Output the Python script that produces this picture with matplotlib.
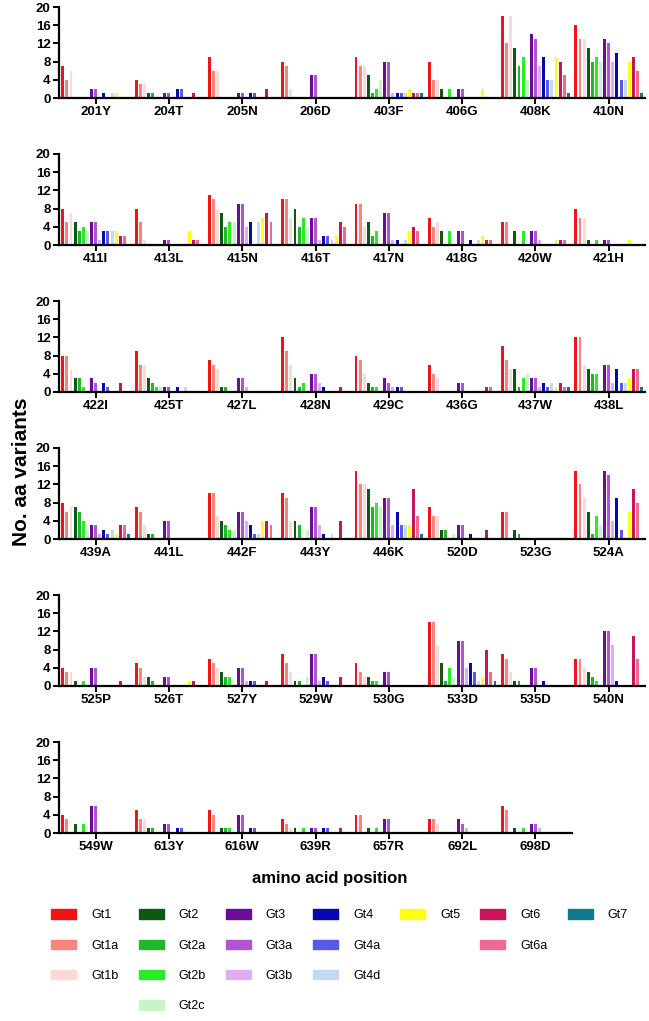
import matplotlib
matplotlib.use('Agg')
import matplotlib.pyplot as plt
from matplotlib.patches import Patch

plt.rcParams['font.family'] = ['Liberation Sans', 'DejaVu Sans']

subtypes = ['Gt1', 'Gt1a', 'Gt1b', 'Gt2', 'Gt2a', 'Gt2b', 'Gt2c', 'Gt3', 'Gt3a', 'Gt3b',
            'Gt4', 'Gt4a', 'Gt4d', 'Gt5', 'Gt6', 'Gt6a', 'Gt7']
colors = ['#f01414', '#f8847c', '#fcd8d8', '#0c5a12', '#20b82a', '#28ec28', '#c8f4c8',
          '#6a0c96', '#b054d4', '#e2acf4', '#0808b0', '#5a5ae8', '#c4d8f4', '#ffff14',
          '#c8145c', '#f06894', '#12788c']

# one row per site, columns follow `subtypes`
sites1 = ['201Y', '204T', '205N', '206D', '403F', '406G', '408K', '410N']
counts1 = [
    [7, 4, 6, 0, 0, 0, 0, 2, 2, 0, 1, 0, 1, 1, 0, 0, 0],
    [4, 3, 3, 1, 1, 0, 0, 1, 1, 0, 2, 2, 0, 0, 1, 0, 0],
    [9, 6, 6, 0, 0, 0, 0, 1, 1, 0, 1, 1, 0, 0, 2, 0, 0],
    [8, 7, 2, 0, 0, 0, 0, 5, 5, 0, 0, 0, 0, 0, 0, 0, 0],
    [9, 7, 7, 5, 1, 2, 4, 8, 8, 1, 1, 1, 1, 2, 1, 1, 1],
    [8, 4, 4, 2, 0, 2, 0, 2, 2, 0, 0, 0, 0, 2, 0, 0, 0],
    [18, 12, 18, 11, 7, 9, 4, 14, 13, 7, 9, 4, 4, 9, 8, 5, 1],
    [16, 13, 13, 11, 8, 9, 8, 13, 12, 8, 10, 4, 4, 8, 9, 6, 1],
]

sites2 = ['411I', '413L', '415N', '416T', '417N', '418G', '420W', '421H']
counts2 = [
    [8, 5, 7, 5, 3, 4, 3, 5, 5, 1, 3, 3, 3, 3, 2, 2, 0],
    [8, 5, 1, 0, 0, 0, 0, 1, 1, 0, 0, 0, 0, 3, 1, 1, 0],
    [11, 10, 8, 7, 4, 5, 5, 9, 9, 4, 5, 0, 5, 6, 7, 5, 0],
    [10, 10, 6, 8, 4, 6, 4, 6, 6, 1, 2, 2, 1, 2, 5, 4, 0],
    [9, 9, 4, 5, 2, 3, 0, 7, 7, 1, 1, 0, 1, 3, 4, 3, 0],
    [6, 4, 5, 3, 0, 3, 0, 3, 3, 0, 1, 0, 1, 2, 1, 1, 0],
    [5, 5, 0, 3, 0, 3, 0, 3, 3, 1, 0, 0, 0, 1, 1, 1, 0],
    [8, 6, 6, 1, 0, 1, 0, 1, 1, 0, 0, 0, 0, 1, 0, 0, 0],
]

sites3 = ['422I', '425T', '427L', '428N', '429C', '436G', '437W', '438L']
counts3 = [
    [8, 8, 5, 3, 3, 1, 0, 3, 2, 0, 2, 1, 0, 0, 2, 0, 0],
    [9, 6, 6, 3, 2, 1, 1, 1, 1, 0, 1, 0, 1, 0, 0, 0, 0],
    [7, 6, 5, 1, 1, 0, 0, 3, 3, 1, 0, 0, 0, 0, 0, 0, 0],
    [12, 9, 6, 3, 1, 2, 0, 4, 4, 2, 1, 0, 0, 0, 1, 0, 0],
    [8, 7, 4, 2, 1, 1, 0, 3, 2, 1, 1, 1, 0, 0, 0, 0, 0],
    [6, 4, 3, 0, 0, 0, 0, 2, 2, 0, 0, 0, 0, 0, 1, 1, 0],
    [10, 7, 5, 5, 1, 3, 4, 3, 3, 1, 2, 1, 2, 1, 2, 1, 1],
    [12, 12, 6, 5, 4, 4, 0, 6, 6, 2, 5, 2, 2, 3, 5, 5, 1],
]

sites4 = ['439A', '441L', '442F', '443Y', '446K', '520D', '523G', '524A']
counts4 = [
    [8, 6, 7, 7, 6, 4, 2, 3, 3, 1, 2, 1, 2, 1, 3, 3, 1],
    [7, 6, 3, 1, 1, 0, 0, 4, 4, 0, 0, 0, 0, 0, 0, 0, 0],
    [10, 10, 5, 4, 3, 2, 2, 6, 6, 4, 3, 1, 1, 4, 4, 3, 0],
    [10, 9, 4, 4, 3, 0, 2, 7, 7, 3, 1, 0, 1, 0, 4, 0, 0],
    [15, 12, 12, 11, 7, 8, 7, 9, 9, 3, 6, 3, 3, 3, 11, 5, 1],
    [7, 5, 5, 2, 2, 0, 1, 3, 3, 0, 1, 0, 0, 0, 2, 0, 0],
    [6, 6, 0, 2, 1, 0, 0, 0, 0, 0, 0, 0, 0, 0, 0, 0, 0],
    [15, 12, 9, 6, 1, 5, 3, 15, 14, 4, 9, 2, 0, 6, 11, 8, 0],
]

sites5 = ['525P', '526T', '527Y', '529W', '530G', '533D', '535D', '540N']
counts5 = [
    [4, 3, 3, 1, 0, 1, 0, 4, 4, 0, 0, 0, 0, 0, 1, 0, 0],
    [5, 4, 2, 2, 1, 0, 0, 2, 2, 0, 0, 0, 0, 1, 1, 0, 0],
    [6, 5, 4, 3, 2, 2, 0, 4, 4, 1, 1, 1, 0, 0, 1, 0, 0],
    [7, 5, 3, 1, 1, 0, 2, 7, 7, 1, 2, 1, 0, 0, 2, 0, 0],
    [5, 3, 2, 2, 1, 1, 0, 3, 3, 0, 0, 0, 0, 0, 0, 0, 0],
    [14, 14, 9, 5, 1, 4, 2, 10, 10, 4, 5, 3, 1, 2, 8, 3, 1],
    [7, 6, 3, 1, 1, 0, 0, 4, 4, 0, 1, 0, 0, 0, 0, 0, 0],
    [6, 6, 4, 3, 2, 1, 0, 12, 12, 9, 1, 0, 0, 0, 11, 6, 0],
]

sites6 = ['549W', '613Y', '616W', '639R', '657R', '692L', '698D']
counts6 = [
    [4, 3, 0, 2, 0, 2, 0, 6, 6, 0, 0, 0, 0, 0, 0, 0, 0],
    [5, 3, 3, 1, 1, 0, 0, 2, 2, 0, 1, 1, 0, 0, 0, 0, 0],
    [5, 4, 0, 1, 1, 1, 0, 4, 4, 0, 1, 1, 0, 0, 0, 0, 0],
    [3, 2, 1, 1, 0, 1, 0, 1, 1, 0, 1, 1, 0, 0, 1, 0, 0],
    [4, 4, 0, 1, 0, 1, 0, 3, 3, 0, 0, 0, 0, 0, 0, 0, 0],
    [3, 3, 2, 0, 0, 0, 0, 3, 2, 1, 0, 0, 0, 0, 0, 0, 0],
    [6, 5, 0, 1, 0, 1, 0, 2, 2, 1, 0, 0, 0, 0, 0, 0, 0],
]

panels = [(sites1, counts1), (sites2, counts2), (sites3, counts3),
          (sites4, counts4), (sites5, counts5), (sites6, counts6)]

W, H = 649, 1021
fig = plt.figure(figsize=(W / 100, H / 100), dpi=100)

left_px = 59
group_px = 73.3
axh_px = 91
pitch = 0.056

for k, (sites, counts) in enumerate(panels):
    top_px = 7 + 147 * k
    ax = fig.add_axes([left_px / W, 1 - (top_px + axh_px) / H,
                       len(sites) * group_px / W, axh_px / H])
    for j in range(len(subtypes)):
        xs = [i + (j - 8) * pitch for i in range(len(sites))]
        hs = [row[j] for row in counts]
        ax.bar(xs, hs, width=0.04, color=colors[j], linewidth=0)
    ax.set_xlim(-0.5, len(sites) - 0.5)
    ax.set_ylim(0, 20)
    ax.set_yticks([0, 4, 8, 12, 16, 20])
    ax.set_xticks(range(len(sites)))
    ax.set_xticklabels(sites)
    for s in ['top', 'right']:
        ax.spines[s].set_visible(False)
    for s in ['left', 'bottom']:
        ax.spines[s].set_linewidth(1.6)
    ax.tick_params(width=1.4, length=4, labelsize=9.5, pad=2)
    for lab in ax.get_xticklabels() + ax.get_yticklabels():
        lab.set_fontweight('bold')

fig.text(22 / W, 1 - 472 / H, 'No. aa variants', rotation=90, fontsize=15,
         fontweight='bold', ha='center', va='center')
fig.text(330 / W, 1 - 878 / H, 'amino acid position', fontsize=12,
         fontweight='bold', ha='center', va='center')

# legend: one column per genotype, blanks fill the gaps
columns = [['Gt1', 'Gt1a', 'Gt1b'], ['Gt2', 'Gt2a', 'Gt2b', 'Gt2c'],
           ['Gt3', 'Gt3a', 'Gt3b'], ['Gt4', 'Gt4a', 'Gt4d'], ['Gt5'],
           ['Gt6', 'Gt6a'], ['Gt7']]
handles, labels = [], []
for col in columns:
    for r in range(4):
        if r < len(col):
            handles.append(Patch(color=colors[subtypes.index(col[r])]))
            labels.append(col[r])
        else:
            handles.append(Patch(color='none'))
            labels.append('')
fig.legend(handles, labels, ncol=7, loc='upper left',
           bbox_to_anchor=(40 / W, 1 - 898 / H), frameon=False, fontsize=9,
           handlelength=2.0, handleheight=0.8, columnspacing=1.6,
           labelspacing=1.45, handletextpad=1.2)

fig.savefig('out.png', dpi=100)
